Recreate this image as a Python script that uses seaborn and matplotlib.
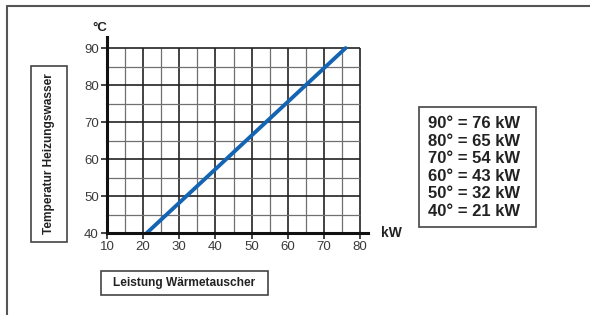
import matplotlib
matplotlib.use("Agg")
import matplotlib.pyplot as plt
import seaborn as sns
import pandas as pd
from matplotlib.patches import Rectangle
from matplotlib.lines import Line2D

# Data
temps = [40, 50, 60, 70, 80, 90]
power_kw = [21, 32, 43, 54, 65, 76]
x_ticks = [10, 20, 30, 40, 50, 60, 70, 80]
y_ticks = [40, 50, 60, 70, 80, 90]
legend_lines = ["90° = 76 kW", "80° = 65 kW", "70° = 54 kW",
                "60° = 43 kW", "50° = 32 kW", "40° = 21 kW"]
y_title = "Temperatur Heizungswasser"
x_title = "Leistung Wärmetauscher"

sns.set_style("white")
plt.rcParams['font.family'] = ['Liberation Sans', 'DejaVu Sans']

W, H = 590, 315
fig = plt.figure(figsize=(W / 100, H / 100), dpi=100)

def fx(px):
    return px / W

def fy(py):
    return 1 - py / H

ax = fig.add_axes([fx(107), fy(233), fx(368) - fx(107), fy(37) - fy(233)])
ax.set_xlim(10, 82.2)
ax.set_ylim(40, 93)

# grid
for v in range(15, 81, 5):
    major = v % 10 == 0
    ax.vlines(v, 40, 90, colors="#222222" if major else "#707070",
              linewidth=1.2 if major else 0.9, zorder=1)
for h in range(45, 91, 5):
    major = h % 10 == 0
    ax.hlines(h, 10, 80, colors="#222222" if major else "#707070",
              linewidth=1.2 if major else 0.9, zorder=1)

df = pd.DataFrame({"kW": power_kw, "T": temps})
sns.lineplot(data=df, x="kW", y="T", ax=ax, color="#1464b4", linewidth=2.8,
             zorder=3, legend=False)

ax.set_xticks(x_ticks)
ax.set_yticks(y_ticks)
ax.set_xticklabels([str(t) for t in x_ticks])
ax.set_yticklabels([str(t) for t in y_ticks])
ax.tick_params(axis="both", which="major", direction="out", length=4, width=1.2,
               colors="#222222", labelcolor="#3a3a3a", labelsize=9.5, pad=2,
               bottom=True, left=True)
ax.set_xlabel("")
ax.set_ylabel("")
for s in ["top", "right"]:
    ax.spines[s].set_visible(False)
for s in ["left", "bottom"]:
    ax.spines[s].set_linewidth(2.2)
    ax.spines[s].set_color("#111111")
    ax.spines[s].set_zorder(4)

fig.text(fx(100), fy(28), "°C", fontsize=9.5, fontweight="bold",
         ha="center", va="center", color="#222222")
fig.text(fx(391), fy(233), "kW", fontsize=10, fontweight="bold",
         ha="center", va="center", color="#222222")

def box(x0, y0, x1, y1):
    r = Rectangle((fx(x0), fy(y1)), fx(x1) - fx(x0), fy(y0) - fy(y1),
                  transform=fig.transFigure, fill=False, edgecolor="#444444",
                  linewidth=1.2)
    fig.add_artist(r)

box(31, 66, 67, 242)
fig.text(fx(49), fy(154), y_title, rotation=90, fontsize=8.6, fontweight="bold",
         ha="center", va="center", color="#222222")

box(101, 271, 268, 295)
fig.text(fx(184.5), fy(283), x_title, fontsize=8.6, fontweight="bold",
         ha="center", va="center", color="#222222")

box(419, 107, 536, 227)
for i, line in enumerate(legend_lines):
    fig.text(fx(428.5), fy(124 + i * 17.4), line, fontsize=12, fontweight="bold",
             ha="left", va="center", color="#222222")

# outer frame lines
fig.add_artist(Line2D([fx(7), 1], [fy(6), fy(6)], transform=fig.transFigure,
                      color="#555555", linewidth=1.5))
fig.add_artist(Line2D([fx(7), fx(7)], [fy(6), 0], transform=fig.transFigure,
                      color="#555555", linewidth=1.5))

fig.savefig("out.png", dpi=100)
